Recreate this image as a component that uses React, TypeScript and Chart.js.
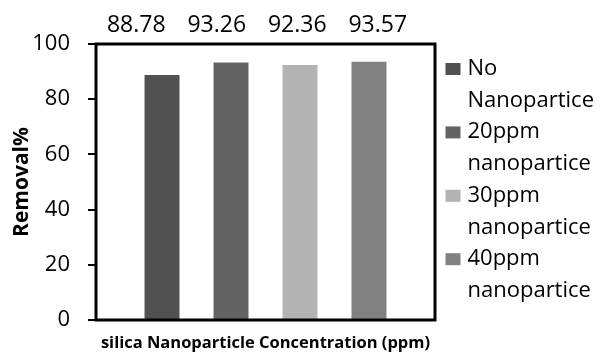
import { useEffect, useRef } from "react";
import { Chart, registerables } from "chart.js";

Chart.register(...registerables);

const categories = [""];
const seriesLabels = ["No Nanopartice", "20ppm nanopartice", "30ppm nanopartice", "40ppm nanopartice"];
const removalValues = [88.78, 93.26, 92.36, 93.57];
const valueLabels = ["88.78", "93.26", "92.36", "93.57"];
const seriesColors = ["#515151", "#636363", "#b3b3b3", "#818181"];
const yMin = 0;
const yMax = 100;
const yStep = 20;
const xTitle = "silica Nanoparticle Concentration (ppm)";
const yTitle = "Removal%";

const FONT = '"Open Sans", "Noto Sans", sans-serif';

const overlay = {
  id: "overlay",
  afterDatasetsDraw(chart: any) {
    const { ctx, chartArea: a } = chart;
    ctx.save();
    ctx.strokeStyle = "#000";
    ctx.lineWidth = 3;
    ctx.strokeRect(a.left, a.top, a.right - a.left, a.bottom - a.top);

    ctx.fillStyle = "#000";
    ctx.font = `23px ${FONT}`;
    ctx.textAlign = "center";
    ctx.textBaseline = "alphabetic";
    const cx = (a.left + a.right) / 2 - 8.5;
    valueLabels.forEach((t, i) => {
      ctx.fillText(t, cx + (i - 1.5) * 80.5, a.top - 12);
    });

    ctx.font = `22px ${FONT}`;
    ctx.textAlign = "left";
    const lx = a.right + 10.5;
    const lineGap = 31.7;
    seriesLabels.forEach((lab, i) => {
      const sp = lab.indexOf(" ");
      const lines = [lab.slice(0, sp), lab.slice(sp + 1)];
      const base = a.top + 31 + i * 2 * lineGap;
      ctx.fillStyle = seriesColors[i];
      ctx.fillRect(lx, base - 12, 15, 12);
      ctx.fillStyle = "#000";
      lines.forEach((ln, j) => ctx.fillText(ln, lx + 22, base + j * lineGap));
    });
    ctx.restore();
  },
};

export default function App() {
  const ref = useRef<HTMLCanvasElement>(null);
  useEffect(() => {
    const chart = new Chart(ref.current as HTMLCanvasElement, {
      type: "bar",
      data: {
        labels: categories,
        datasets: seriesLabels.map((label, i) => ({
          label,
          data: [removalValues[i]],
          backgroundColor: seriesColors[i],
          borderWidth: 0,
          categoryPercentage: 0.814,
          barPercentage: 0.507,
        })),
      },
      options: {
        responsive: false,
        animation: false,
        devicePixelRatio: 1,
        layout: { padding: { top: 44, right: 166, left: 0, bottom: 0 } },
        plugins: { legend: { display: false }, tooltip: { enabled: false } },
        scales: {
          x: {
            grid: { display: false },
            border: { display: false },
            ticks: { display: false },
            afterFit: (s: any) => {
              s.height = 32;
            },
            title: {
              display: true,
              text: xTitle,
              color: "#000",
              font: { family: FONT, size: 16.5, weight: "bold", lineHeight: 1 },
              padding: 0,
            },
          },
          y: {
            min: yMin,
            max: yMax,
            ticks: {
              stepSize: yStep,
              color: "#000",
              font: { family: FONT, size: 22 },
              padding: 18,
            },
            grid: {
              drawOnChartArea: false,
              drawTicks: true,
              tickLength: 8,
              color: "#000",
              lineWidth: 2,
            },
            border: { display: false },
            afterFit: (s: any) => {
              s.width = 96;
            },
            title: {
              display: true,
              text: yTitle,
              color: "#000",
              font: { family: FONT, size: 21, weight: "bold", lineHeight: 1.2 },
              padding: { top: 9, bottom: 0 },
            },
          },
        },
      },
      plugins: [overlay],
    });
    return () => chart.destroy();
  }, []);
  return (
    <div style={{ position: "fixed", left: 0, top: 0, width: 601, height: 352, background: "#fff" }}>
      <canvas ref={ref} width={601} height={352} />
    </div>
  );
}
